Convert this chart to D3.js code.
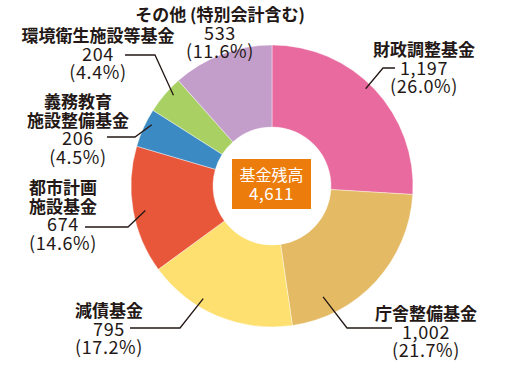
<!DOCTYPE html>
<html>
<head>
<meta charset="utf-8">
<script src="https://cdn.jsdelivr.net/npm/d3@7"></script>
<style>
  body { margin: 0; background: #fff; }
  svg { display: block; }
  text { font-family: "Noto Sans CJK JP", "Noto Sans", sans-serif; fill: #231815; }
</style>
</head>
<body>
<svg width="510" height="368"></svg>
<script>
// data
var names = [["財政調整基金"], ["庁舎整備基金"], ["減債基金"], ["都市計画", "施設基金"],
             ["義務教育", "施設整備基金"], ["環境衛生施設等基金"], ["その他 (特別会計含む)"]];
var values = [1197, 1002, 795, 674, 206, 204, 533];
var shares = ["26.0%", "21.7%", "17.2%", "14.6%", "4.5%", "4.4%", "11.6%"];
var totalLabel = "基金残高";
var colors = ["#e96a9e", "#e5ba64", "#fde06f", "#e8573a", "#3b8ac3", "#a9d063", "#c49ecb"];

// label layout: t = position inside slice, r = radius of leader start,
// elbow/end of leader, label centre x and first baseline
var layout = [
  {t: 0.47, r: 135, elbow: [383, 68],  end: [395, 68],  x: 424, y: 56},
  {t: 0.79, r: 122, elbow: [347, 328], end: [392, 328], x: 426, y: 320},
  {t: 0.64, r: 132, elbow: [180, 328], end: [130, 328], x: 109, y: 317},
  {t: 0.48, r: 129, elbow: [128, 227], end: [85, 227],  x: 63,  y: 194},
  {t: 0.66, r: 135, elbow: [135, 137], end: [107, 137], x: 78,  y: 108},
  {t: 0.64, r: 134, elbow: [155, 55],  end: [125, 55],  x: 98,  y: 42},
  {t: null, x: 220, y: 21}
];

var svg = d3.select("svg"),
    cx = 272, cy = 186,
    outer = 141, inner = 59;

var pie = d3.pie().sort(null).value(function(d) { return d; });
var arc = d3.arc().innerRadius(inner).outerRadius(outer);
var arcs = pie(values);

var g = svg.append("g").attr("transform", "translate(" + cx + "," + cy + ")");

g.selectAll("path.slice")
  .data(arcs)
  .enter().append("path")
  .attr("class", "slice")
  .attr("d", arc)
  .attr("fill", function(d, i) { return colors[i]; })
  .attr("stroke", "#fff")
  .attr("stroke-width", 0.4);

// leaders
arcs.forEach(function(d, i) {
  var L = layout[i];
  if (L.t == null) return;
  var a = d.startAngle + L.t * (d.endAngle - d.startAngle);
  var p = d3.pointRadial(a, L.r);
  var pts = [[cx + p[0], cy + p[1]], L.elbow, L.end];
  svg.append("path")
    .attr("d", d3.line()(pts))
    .attr("fill", "none")
    .attr("stroke", "#231815")
    .attr("stroke-width", 1.3);
});

// labels
var fmt = d3.format(",");
arcs.forEach(function(d, i) {
  var L = layout[i];
  var lines = names[i].map(function(s) { return {s: s, name: true}; })
    .concat([{s: fmt(values[i])}, {s: "(" + shares[i] + ")"}]);
  lines.forEach(function(l, j) {
    svg.append("text")
      .attr("text-anchor", "middle")
      .attr("x", L.x)
      .attr("y", L.y + j * 18.5)
      .attr("font-size", l.name ? "17px" : "18px")
      .attr("font-weight", l.name ? "bold" : "normal")
      .attr("letter-spacing", l.name ? 0 : 0.6)
      .text(l.s);
  });
});

// centre box
svg.append("rect")
  .attr("x", 232).attr("y", 159)
  .attr("width", 79).attr("height", 50)
  .attr("fill", "#ec7c0b");

svg.append("text")
  .attr("x", 271.5).attr("y", 181)
  .attr("text-anchor", "middle")
  .attr("font-size", "16px")
  .style("fill", "#fff")
  .text(totalLabel);

svg.append("text")
  .attr("x", 271.5).attr("y", 200)
  .attr("text-anchor", "middle")
  .attr("font-size", "17px")
  .attr("letter-spacing", 0.5)
  .style("fill", "#fff")
  .text(fmt(d3.sum(values)));
</script>
</body>
</html>
